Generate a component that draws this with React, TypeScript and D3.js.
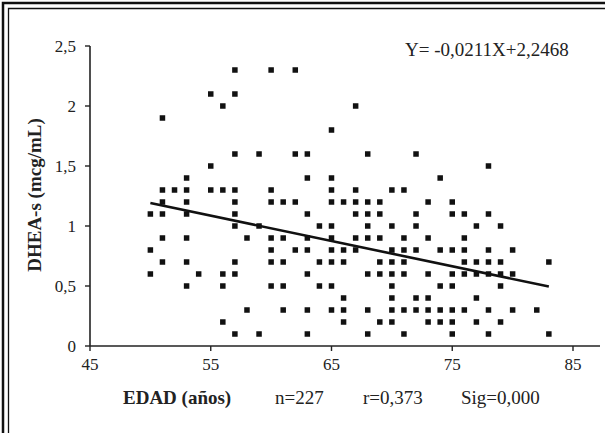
import React from 'react';
import * as d3 from 'd3';

// Age (x) and DHEA-s (y) of each visible marker
const ages: number[] = [
  57, 60, 62,
  55, 57,
  56, 67,
  51,
  65,
  57, 59, 62, 63, 68, 72,
  55, 78,
  53, 63, 65, 74,
  51, 52, 53, 55, 56, 57, 60, 65, 67, 70, 71,
  51, 53, 57, 60, 61, 62, 65, 66, 67, 68, 69, 73, 75,
  50, 51, 53, 57, 63, 67, 68, 69, 72, 75, 76, 78,
  57, 59, 64, 65, 68, 70, 72, 77, 79,
  51, 53, 58, 60, 61, 63, 65, 67, 68, 69, 71, 73, 76,
  50, 60, 62, 63, 65, 66, 67, 70, 71, 72, 74, 75, 76, 78, 80,
  51, 53, 57, 60, 61, 64, 65, 66, 69, 70, 71, 76, 77, 78, 79, 83,
  50, 54, 56, 57, 63, 68, 69, 70, 71, 73, 75, 76, 77, 78, 79, 80,
  53, 56, 60, 61, 64, 65, 70, 74, 75, 79,
  66, 70, 72, 73, 77,
  58, 61, 63, 65, 66, 68, 70, 71, 72, 73, 74, 75, 76, 78, 80, 82,
  56, 66, 69, 70, 73, 74, 75, 77, 79,
  57, 59, 63, 68, 71, 75, 78, 83,
];

const dhea: number[] = [
  2.3, 2.3, 2.3,
  2.1, 2.1,
  2.0, 2.0,
  1.9,
  1.8,
  1.6, 1.6, 1.6, 1.6, 1.6, 1.6,
  1.5, 1.5,
  1.4, 1.4, 1.4, 1.4,
  1.3, 1.3, 1.3, 1.3, 1.3, 1.3, 1.3, 1.3, 1.3, 1.3, 1.3,
  1.2, 1.2, 1.2, 1.2, 1.2, 1.2, 1.2, 1.2, 1.2, 1.2, 1.2, 1.2, 1.2,
  1.1, 1.1, 1.1, 1.1, 1.1, 1.1, 1.1, 1.1, 1.1, 1.1, 1.1, 1.1,
  1.0, 1.0, 1.0, 1.0, 1.0, 1.0, 1.0, 1.0, 1.0,
  0.9, 0.9, 0.9, 0.9, 0.9, 0.9, 0.9, 0.9, 0.9, 0.9, 0.9, 0.9, 0.9,
  0.8, 0.8, 0.8, 0.8, 0.8, 0.8, 0.8, 0.8, 0.8, 0.8, 0.8, 0.8, 0.8, 0.8, 0.8,
  0.7, 0.7, 0.7, 0.7, 0.7, 0.7, 0.7, 0.7, 0.7, 0.7, 0.7, 0.7, 0.7, 0.7, 0.7, 0.7,
  0.6, 0.6, 0.6, 0.6, 0.6, 0.6, 0.6, 0.6, 0.6, 0.6, 0.6, 0.6, 0.6, 0.6, 0.6, 0.6,
  0.5, 0.5, 0.5, 0.5, 0.5, 0.5, 0.5, 0.5, 0.5, 0.5,
  0.4, 0.4, 0.4, 0.4, 0.4,
  0.3, 0.3, 0.3, 0.3, 0.3, 0.3, 0.3, 0.3, 0.3, 0.3, 0.3, 0.3, 0.3, 0.3, 0.3, 0.3,
  0.2, 0.2, 0.2, 0.2, 0.2, 0.2, 0.2, 0.2, 0.2,
  0.1, 0.1, 0.1, 0.1, 0.1, 0.1, 0.1, 0.1,
];

const xTicks = [45, 55, 65, 75, 85];
const yTicks = [0, 0.5, 1, 1.5, 2, 2.5];
const yTickLabels = ['0', '0,5', '1', '1,5', '2', '2,5'];
const slope = -0.0211;
const intercept = 2.2468;
const fitRange = [50, 83];
const equationText = 'Y= -0,0211X+2,2468';
const yTitle = 'DHEA-s (mcg/mL)';
const xTitle = 'EDAD (años)';
const statsTexts = ['n=227', 'r=0,373', 'Sig=0,000'];

const W = 605;
const H = 433;
const FONT = '"Liberation Serif", "Times New Roman", serif';

export default function App() {
  const x = d3.scaleLinear().domain([45, 85]).range([90, 573]);
  const y = d3.scaleLinear().domain([0, 2.5]).range([346, 46]);
  const sq = 5.5;

  const fitLine = d3
    .line<number>()
    .x((d) => x(d))
    .y((d) => y(slope * d + intercept));

  const statsX = [275, 363, 461];

  return (
    <svg
      width={W}
      height={H}
      style={{ position: 'absolute', left: 0, top: 0, background: '#fff' }}
      fontFamily={FONT}
    >
      {/* double frame */}
      <path d={`M3,${H} V3 H${W}`} fill="none" stroke="#111" strokeWidth={2.5} />
      <path d={`M8.5,${H} V8.5 H${W}`} fill="none" stroke="#111" strokeWidth={1.3} />

      {/* axes */}
      <line x1={x(45)} x2={600} y1={y(0)} y2={y(0)} stroke="#222" strokeWidth={1.6} />
      <line x1={x(45)} x2={x(45)} y1={y(0)} y2={y(2.5)} stroke="#222" strokeWidth={1.6} />
      {yTicks.map((t, i) => (
        <g key={'yt' + i}>
          <line x1={x(45) - 5} x2={x(45)} y1={y(t)} y2={y(t)} stroke="#222" strokeWidth={1.4} />
          <text x={76} y={y(t)} dy="0.35em" textAnchor="end" fontSize={17} fill="#222">
            {yTickLabels[i]}
          </text>
        </g>
      ))}
      {xTicks.map((t) => (
        <g key={'xt' + t}>
          <line x1={x(t)} x2={x(t)} y1={y(0)} y2={y(0) + 5} stroke="#222" strokeWidth={1.4} />
          <text x={x(t)} y={370} textAnchor="middle" fontSize={17} fill="#222">
            {t}
          </text>
        </g>
      ))}

      {/* points */}
      {ages.map((a, i) => (
        <rect
          key={'p' + i}
          x={x(a) - sq / 2}
          y={y(dhea[i]) - sq / 2}
          width={sq}
          height={sq}
          fill="#111"
        />
      ))}

      {/* regression line */}
      <path d={fitLine(fitRange) || ''} fill="none" stroke="#111" strokeWidth={2.6} />

      <text x={405} y={56} fontSize={19} fill="#222">
        {equationText}
      </text>

      <text
        transform={`translate(41,195) rotate(-90)`}
        textAnchor="middle"
        fontSize={19}
        fontWeight="bold"
        fill="#222"
      >
        {yTitle}
      </text>

      <text x={123} y={404} fontSize={19} fontWeight="bold" fill="#222">
        {xTitle}
      </text>
      {statsTexts.map((s, i) => (
        <text key={s} x={statsX[i]} y={404} fontSize={19} fill="#222">
          {s}
        </text>
      ))}
    </svg>
  );
}
